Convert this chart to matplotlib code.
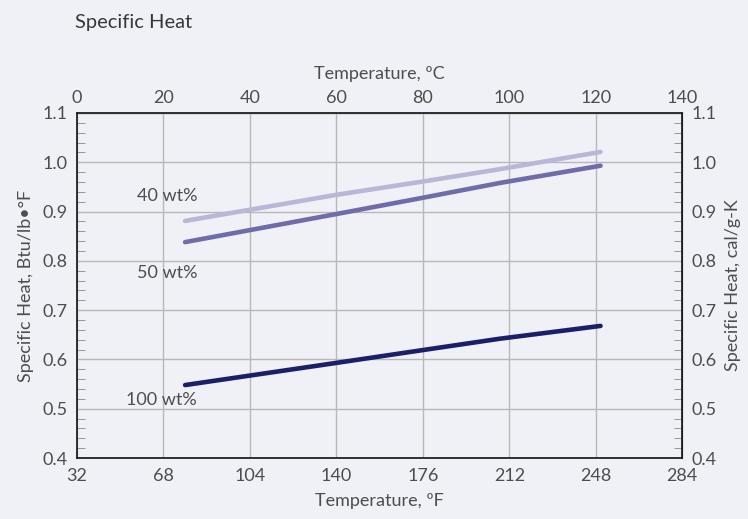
import matplotlib
matplotlib.use("Agg")
import matplotlib.pyplot as plt
from matplotlib.ticker import MultipleLocator

plt.rcParams['font.family'] = ['Lato', 'DejaVu Sans']

# data (temperature in deg F, specific heat in Btu/lb.F)
temp_f = [77, 140, 176, 208, 250]
heat_40 = [0.881, 0.934, 0.961, 0.986, 1.021]
heat_50 = [0.838, 0.895, 0.928, 0.958, 0.993]
heat_100 = [0.548, 0.593, 0.619, 0.642, 0.668]
series_names = ["40 wt%", "50 wt%", "100 wt%"]
f_ticks = [32, 68, 104, 140, 176, 212, 248, 284]
c_ticks = [0, 20, 40, 60, 80, 100, 120, 140]

bg = "#f0f1f6"
txt = "#4d4d4d"
fs = 13

fig = plt.figure(figsize=(7.48, 5.19), dpi=100, facecolor=bg)
ax = fig.add_axes([0.103, 0.1175, 0.809, 0.6648], facecolor=bg)

ax.plot(temp_f, heat_40, color="#b9b7d7", lw=3.3, solid_capstyle="round", zorder=3)
ax.plot(temp_f, heat_50, color="#6f6da9", lw=3.3, solid_capstyle="round", zorder=3)
ax.plot(temp_f, heat_100, color="#1b1e68", lw=3.3, solid_capstyle="round", zorder=3)

# series labels sit left of the line starts
ax.text(82, 0.932, series_names[0], color=txt, fontsize=fs, ha="right", va="center")
ax.text(82, 0.775, series_names[1], color=txt, fontsize=fs, ha="right", va="center")
ax.text(82, 0.518, series_names[2], color=txt, fontsize=fs, ha="right", va="center")

ax.set_xlim(32, 284)
ax.set_ylim(0.4, 1.1)
ax.set_xticks(f_ticks)
ax.yaxis.set_major_locator(MultipleLocator(0.1))
ax.yaxis.set_minor_locator(MultipleLocator(0.02))
ax.yaxis.set_major_formatter(plt.FormatStrFormatter('%.1f'))
ax.grid(True, which="major", color="#b8b8b8", lw=1)
ax.tick_params(axis="x", length=0, labelsize=fs, labelcolor=txt, pad=7)
ax.tick_params(axis="y", which="major", length=0, labelsize=fs, labelcolor=txt, pad=7)
ax.tick_params(axis="y", which="minor", direction="in", length=6, color="#888888")
for s in ax.spines.values():
    s.set_color("#222222")
    s.set_linewidth(1.3)

ax.set_xlabel("Temperature, ºF", fontsize=fs, color=txt, labelpad=7)
ax.set_ylabel("Specific Heat, Btu/lb•°F", fontsize=fs, color=txt, labelpad=6)

top = ax.secondary_xaxis("top", functions=(lambda f: (f - 32) / 1.8, lambda c: c * 1.8 + 32))
top.set_xticks(c_ticks)
top.tick_params(length=0, labelsize=fs, labelcolor=txt, pad=5)
top.set_xlabel("Temperature, ºC", fontsize=fs, color=txt, labelpad=8)

right = ax.secondary_yaxis("right", functions=(lambda v: v, lambda v: v))
right.yaxis.set_major_locator(MultipleLocator(0.1))
right.yaxis.set_minor_locator(MultipleLocator(0.02))
right.yaxis.set_major_formatter(plt.FormatStrFormatter('%.1f'))
right.tick_params(which="major", length=0, labelsize=fs, labelcolor=txt, pad=7)
right.tick_params(which="minor", direction="in", length=6, color="#888888")
right.set_ylabel("Specific Heat, cal/g-K", fontsize=fs, color=txt, labelpad=6)

fig.text(0.1, 0.957, "Specific Heat", fontsize=14.5, color="#383838", va="center")

fig.savefig("out.png", dpi=100, facecolor=bg)
